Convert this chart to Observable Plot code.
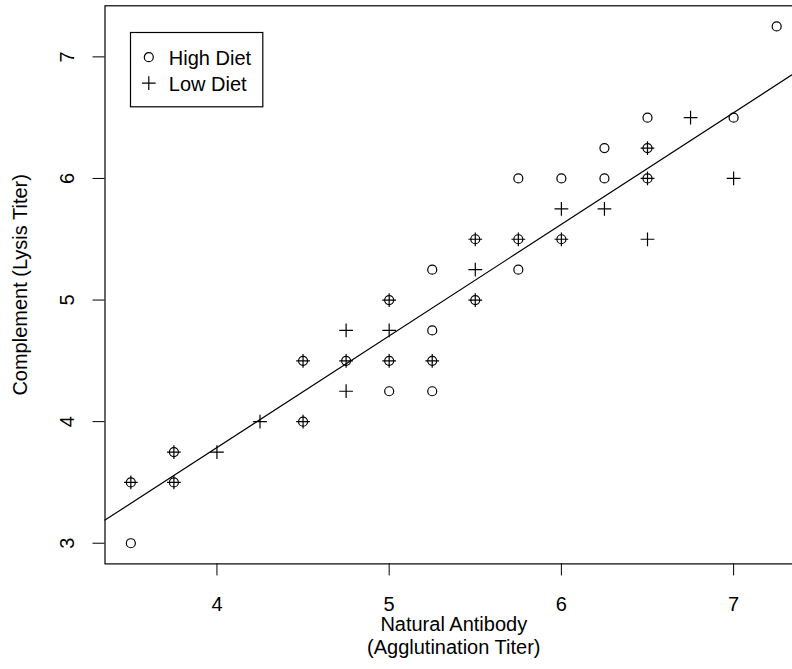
<!DOCTYPE html>
<html>
<head>
<meta charset="utf-8">
<script src="https://cdn.jsdelivr.net/npm/d3@7"></script>
<script src="https://cdn.jsdelivr.net/npm/@observablehq/plot@0.6"></script>
<style>
  html, body { margin: 0; padding: 0; background: white; overflow: hidden; }
  svg { display: block; }
</style>
</head>
<body>
<div id="chart"></div>
<script>
// High Diet (circles)
const highX = [3.5, 3.5, 3.75, 3.75, 4.5, 4.5, 4.75, 5, 5, 5, 5.25, 5.25, 5.25, 5.25, 5.5, 5.5, 5.75, 5.75, 5.75, 6, 6, 6.25, 6.25, 6.5, 6.5, 6.5, 7, 7.25];
const highY = [3.5, 3.0, 3.75, 3.5, 4.5, 4.0, 4.5, 5, 4.5, 4.25, 5.25, 4.75, 4.5, 4.25, 5.5, 5, 6, 5.5, 5.25, 6, 5.5, 6.25, 6, 6.5, 6.25, 6, 6.5, 7.25];
// Low Diet (plus)
const lowX = [3.5, 3.75, 3.75, 4, 4.25, 4.5, 4.5, 4.75, 4.75, 4.75, 5, 5, 5, 5.25, 5.5, 5.5, 5.5, 5.75, 6, 6, 6.25, 6.5, 6.5, 6.5, 6.75, 7];
const lowY = [3.5, 3.75, 3.5, 3.75, 4, 4.5, 4, 4.75, 4.5, 4.25, 5, 4.75, 4.5, 4.5, 5.5, 5.25, 5, 5.5, 5.75, 5.5, 5.75, 6.25, 6, 5.5, 6.5, 6];
// fitted line (all data)
const intercept = 0.115;
const slope = 0.918;
// axes
const xTicks = [4, 5, 6, 7];
const yTicks = [3, 4, 5, 6, 7];
const xDomain = [3.35, 7.4];
const yDomain = [2.83, 7.42];
const xTitle = "Natural Antibody\n(Agglutination Titer)";
const yTitle = "Complement (Lysis Titer)";
const legendLabels = ["High Diet", "Low Diet"];
const legendSymbols = ["circle", "plus"];

const high = highX.map((x, i) => ({x, y: highY[i]}));
const low = lowX.map((x, i) => ({x, y: lowY[i]}));
const fit = xDomain.map(x => ({x, y: intercept + slope * x}));

const font = "'Liberation Sans', Arial, Helvetica, sans-serif";
const fs = 20;

const legendMarks = legendLabels.flatMap((label, i) => [
  Plot.dot([label], {frameAnchor: "top-left", dx: 43.8, dy: 51.4 + i * 26, symbol: legendSymbols[i], r: 4.5, stroke: "black", fill: "none", strokeWidth: 1.2}),
  Plot.text([label], {frameAnchor: "top-left", dx: 63.8, dy: 52.4 + i * 26, text: d => d, textAnchor: "start", lineAnchor: "middle", fontSize: fs, fill: "black"})
]);

const chart = Plot.plot({
  width: 792,
  height: 669,
  marginLeft: 104.5,
  marginTop: 5.3,
  marginRight: -10,
  marginBottom: 105.6,
  style: {fontFamily: font, fontSize: fs + "px", color: "black", background: "white"},
  x: {domain: xDomain, ticks: xTicks, tickSize: 12, tickFormat: () => "", label: null},
  y: {domain: yDomain, ticks: yTicks, tickSize: 12, tickFormat: () => "", label: null},
  marks: [
    Plot.frame({stroke: "black", strokeWidth: 1.2}),
    Plot.line(fit, {x: "x", y: "y", stroke: "black", strokeWidth: 1.2}),
    Plot.dot(high, {x: "x", y: "y", symbol: "circle", r: 4.5, stroke: "black", fill: "none", strokeWidth: 1.2}),
    Plot.dot(low, {x: "x", y: "y", symbol: "plus", r: 4.5, stroke: "black", fill: "none", strokeWidth: 1.2}),
    Plot.text(xTicks, {x: d => d, frameAnchor: "bottom", dy: 32.5, textAnchor: "middle", lineAnchor: "top", text: d => String(d), fontSize: fs, fill: "black"}),
    Plot.text(yTicks, {y: d => d, frameAnchor: "left", dx: -37, rotate: -90, textAnchor: "middle", lineAnchor: "middle", text: d => String(d), fontSize: fs, fill: "black"}),
    Plot.text([xTitle], {frameAnchor: "bottom", dy: 51.5, textAnchor: "middle", lineAnchor: "top", lineHeight: 1.12, text: d => d, fontSize: fs, fill: "black"}),
    Plot.text([yTitle], {frameAnchor: "left", dx: -84.5, rotate: -90, textAnchor: "middle", lineAnchor: "middle", text: d => d, fontSize: fs, fill: "black"}),
    Plot.frame({stroke: "black", fill: "white", strokeWidth: 1.2, insetLeft: 25.5, insetTop: 26.7, insetRight: 539.7, insetBottom: 457.1}),
    ...legendMarks
  ]
});
document.getElementById("chart").appendChild(chart);
</script>
</body>
</html>
